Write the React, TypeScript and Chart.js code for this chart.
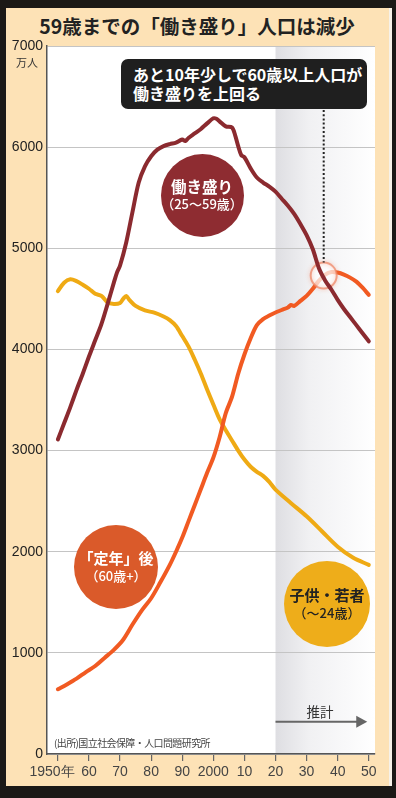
import React, { useEffect, useRef } from "react";
import { Chart, registerables } from "chart.js";

Chart.register(...registerables);

// ---- data (万人) ----
const workYears = [1950, 1952, 1954, 1956, 1958, 1960, 1962, 1964, 1966, 1968, 1969, 1970, 1972, 1974, 1976, 1978, 1980, 1982, 1984, 1986, 1988, 1990, 1991, 1992, 1994, 1996, 1998, 2000, 2001, 2002, 2004, 2006, 2007, 2008, 2009, 2010, 2012, 2014, 2016, 2018, 2020, 2022, 2024, 2026, 2028, 2030, 2032, 2034, 2036, 2038, 2040, 2042, 2044, 2046, 2048, 2050];
const workValues = [3110, 3270, 3430, 3600, 3760, 3930, 4090, 4250, 4450, 4660, 4760, 4830, 5060, 5360, 5650, 5810, 5910, 5975, 6010, 6030, 6045, 6075, 6060, 6090, 6135, 6180, 6235, 6285, 6280, 6255, 6205, 6195, 6120, 6010, 5920, 5900, 5790, 5700, 5650, 5610, 5560, 5490, 5420, 5340, 5240, 5130, 4990, 4800, 4680, 4590, 4490, 4400, 4320, 4240, 4160, 4080];

const seniorYears = [1950, 1953, 1956, 1959, 1962, 1965, 1968, 1971, 1974, 1977, 1980, 1983, 1986, 1988, 1990, 1992, 1994, 1996, 1998, 2000, 2002, 2004, 2006, 2008, 2010, 2012, 2014, 2016, 2018, 2020, 2022, 2024, 2025, 2026, 2028, 2030, 2032, 2034, 2036, 2038, 2040, 2042, 2044, 2046, 2048, 2050];
const seniorValues = [640, 690, 745, 810, 870, 950, 1030, 1130, 1280, 1420, 1540, 1700, 1870, 2000, 2140, 2300, 2460, 2620, 2780, 2930, 3130, 3370, 3530, 3760, 3950, 4110, 4240, 4300, 4335, 4365, 4390, 4415, 4440, 4430, 4480, 4530, 4600, 4680, 4740, 4765, 4760, 4740, 4710, 4670, 4610, 4540];

const youthYears = [1950, 1952, 1954, 1956, 1958, 1960, 1962, 1964, 1966, 1968, 1970, 1971, 1972, 1973, 1975, 1978, 1981, 1984, 1986, 1988, 1990, 1992, 1994, 1996, 1998, 2000, 2002, 2004, 2006, 2008, 2010, 2012, 2014, 2016, 2018, 2020, 2025, 2030, 2035, 2040, 2045, 2050];
const youthValues = [4577, 4660, 4693, 4675, 4640, 4600, 4550, 4530, 4465, 4450, 4460, 4500, 4528, 4490, 4430, 4386, 4363, 4325, 4290, 4231, 4132, 4030, 3900, 3760, 3604, 3455, 3310, 3200, 3100, 3000, 2911, 2840, 2790, 2750, 2690, 2614, 2480, 2350, 2200, 2050, 1940, 1870];

const xTicks = [1950, 1960, 1970, 1980, 1990, 2000, 2010, 2020, 2030, 2040, 2050];
const xTickLabels = ["1950年   ", "60", "70", "80", "90", "2000", "10", "20", "30", "40", "50"];
const yTicks = [0, 1000, 2000, 3000, 4000, 5000, 6000, 7000];

const projectionStart = 2020;
const crossYear = 2035.5;
const crossValue = 4730;
const arrowValue = 320;
const arrowEndYear = 2049.5;

const JP = "'Noto Sans CJK JP', 'Noto Sans', sans-serif";

function pickXFont() {
  try {
    const c = document.createElement("canvas").getContext("2d")!;
    c.font = "16px 'Liberation Sans Narrow', monospace";
    const a = c.measureText("2000").width;
    c.font = "16px monospace";
    const b = c.measureText("2000").width;
    if (Math.abs(a - b) > 0.5) return { family: "'Liberation Sans Narrow', 'Liberation Sans', sans-serif", size: 16 };
  } catch (e) {}
  return { family: "'Liberation Sans', Arial, sans-serif", size: 14 };
}

const overlayPlugin = {
  id: "overlay",
  beforeDraw(chart: any) {
    const { ctx, chartArea: a, scales } = chart;
    ctx.save();
    ctx.fillStyle = "#ffffff";
    ctx.fillRect(a.left, a.top, a.right - a.left, a.bottom - a.top);
    const x0 = scales.x.getPixelForValue(projectionStart);
    const g = ctx.createLinearGradient(x0, 0, a.right, 0);
    g.addColorStop(0, "#dedee2");
    g.addColorStop(0.35, "#f1f1f3");
    g.addColorStop(1, "#ffffff");
    ctx.fillStyle = g;
    ctx.fillRect(x0, a.top, a.right - x0, a.bottom - a.top);
    ctx.restore();
  },
  afterDatasetDraw(chart: any, args: any) {
    if (args.index !== 1) return;
    const { ctx, scales } = chart;
    const cx = scales.x.getPixelForValue(crossYear);
    const cy = scales.y.getPixelForValue(crossValue);
    const r = 13;
    ctx.save();
    ctx.beginPath();
    ctx.arc(cx, cy, r, 0, Math.PI * 2);
    ctx.fillStyle = "rgba(255,255,255,0.72)";
    ctx.fill();
    ctx.shadowColor = "rgba(240,120,80,0.6)";
    ctx.shadowBlur = 4;
    ctx.lineWidth = 2;
    ctx.strokeStyle = "rgba(238,130,95,0.7)";
    ctx.stroke();
    ctx.restore();
  },
  afterDatasetsDraw(chart: any) {
    const { ctx, scales } = chart;
    const cx = scales.x.getPixelForValue(crossYear);
    const cy = scales.y.getPixelForValue(crossValue);
    const r = 13;
    ctx.save();
    // dotted line
    ctx.strokeStyle = "#222";
    ctx.lineWidth = 2;
    ctx.setLineDash([2, 2.2]);
    ctx.beginPath();
    ctx.moveTo(cx, 110);
    ctx.lineTo(cx, cy - r);
    ctx.stroke();
    ctx.setLineDash([]);
    // projection arrow
    const ax0 = scales.x.getPixelForValue(projectionStart);
    const ax1 = scales.x.getPixelForValue(arrowEndYear);
    const ay = scales.y.getPixelForValue(arrowValue);
    ctx.strokeStyle = "#666";
    ctx.fillStyle = "#666";
    ctx.lineWidth = 2;
    ctx.beginPath();
    ctx.moveTo(ax0, ay);
    ctx.lineTo(ax1 - 10, ay);
    ctx.stroke();
    ctx.beginPath();
    ctx.moveTo(ax1, ay);
    ctx.lineTo(ax1 - 11, ay - 6);
    ctx.lineTo(ax1 - 11, ay + 6);
    ctx.closePath();
    ctx.fill();
    ctx.restore();
  },
};

function toPoints(xs: number[], ys: number[]) {
  return xs.map((x, i) => ({ x, y: ys[i] }));
}

export default function App() {
  const ref = useRef<HTMLCanvasElement>(null);
  useEffect(() => {
    const xFont = pickXFont();
    const chart = new Chart(ref.current!, {
      type: "line",
      data: {
        datasets: [
          { label: "働き盛り", data: toPoints(workYears, workValues), borderColor: "#8b2a2f", borderWidth: 4, pointRadius: 0, tension: 0.3, borderCapStyle: "round", borderJoinStyle: "round" },
          { label: "定年後", data: toPoints(seniorYears, seniorValues), borderColor: "#f15a22", borderWidth: 4, pointRadius: 0, tension: 0.3, borderCapStyle: "round", borderJoinStyle: "round" },
          { label: "子供・若者", data: toPoints(youthYears, youthValues), borderColor: "#efaa14", borderWidth: 4, pointRadius: 0, tension: 0.3, borderCapStyle: "round", borderJoinStyle: "round" },
        ],
      },
      options: {
        animation: false,
        responsive: true,
        maintainAspectRatio: false,
        layout: { padding: { left: 0, right: 21, top: 46, bottom: 0 } },
        plugins: { legend: { display: false }, tooltip: { enabled: false } },
        scales: {
          x: {
            type: "linear",
            min: 1946.5,
            max: 2052,
            afterBuildTicks: (s: any) => { s.ticks = xTicks.map((v) => ({ value: v })); },
            afterFit: (s: any) => { s.height = 44; },
            ticks: {
              autoSkip: false,
              maxRotation: 0,
              padding: 3,
              color: "#444",
              font: xFont,
              callback: (_v: any, i: number) => xTickLabels[i],
            },
            grid: { drawOnChartArea: false, drawTicks: true, tickLength: 7, color: "#666", lineWidth: 1.2 },
            border: { display: true, color: "#555", width: 1.5 },
          },
          y: {
            min: 0,
            max: 7000,
            afterBuildTicks: (s: any) => { s.ticks = yTicks.map((v) => ({ value: v })); },
            afterFit: (s: any) => { s.width = 47; },
            ticks: {
              padding: 4,
              color: "#222",
              font: { family: "'Liberation Sans', Arial, sans-serif", size: 14 },
              callback: (v: any) => String(v),
            },
            grid: { drawTicks: false, color: "#c4c4c4", lineWidth: 1 },
            border: { display: true, color: "#555", width: 1.5 },
          },
        },
      },
      plugins: [overlayPlugin],
    } as any);
    return () => chart.destroy();
  }, []);

  const circle = (cx: number, cy: number, r: number, bg: string, color: string, l1: string, l2: string, s1: number, s2: number) => (
    <div
      style={{
        position: "absolute", left: cx - r, top: cy - r, width: 2 * r, height: 2 * r, borderRadius: "50%",
        background: bg, color, display: "flex", flexDirection: "column", alignItems: "center", justifyContent: "center",
        fontFamily: JP, whiteSpace: "nowrap",
      }}
    >
      <div style={{ fontSize: s1, fontWeight: 700, lineHeight: "18px" }}>{l1}</div>
      <div style={{ fontSize: s2, fontWeight: 500, lineHeight: "18px" }}>{l2}</div>
    </div>
  );

  return (
    <div style={{ position: "fixed", left: 0, top: 0, width: 396, height: 798, background: "#1b1916", overflow: "hidden" }}>
      <div style={{ position: "absolute", left: 6, top: 8, width: 383, height: 778, background: "#fde2b6", borderRight: "3px solid #f6f1e8" }} />
      <div style={{ position: "absolute", left: 6, top: 14, width: 382, textAlign: "center", fontFamily: JP, fontWeight: 700, fontSize: 19.5, lineHeight: "24px", color: "#222" }}>
        59歳までの「働き盛り」人口は減少
      </div>
      <div style={{ position: "absolute", left: 0, top: 0, width: 396, height: 798 }}>
        <canvas ref={ref} />
      </div>
      <div style={{ position: "absolute", left: 14, top: 55, width: 26, textAlign: "center", fontFamily: JP, fontSize: 11, lineHeight: "14px", color: "#333" }}>万人</div>
      <div style={{ position: "absolute", left: 121, top: 59, width: 246, height: 50, boxSizing: "border-box", padding: "6px 0 0 12px", background: "#1f1f1f", borderRadius: 7, color: "#fff", fontFamily: JP, fontWeight: 700, fontSize: 16, lineHeight: "19px", whiteSpace: "nowrap" }}>
        <div>あと10年少しで60歳以上人口が</div>
        <div>働き盛りを上回る</div>
      </div>
      {circle(202, 195, 41.5, "#8e2c31", "#fff", "働き盛り", "（25〜59歳）", 15.5, 13)}
      {circle(116, 567, 42, "#da5a2a", "#fff", "「定年」後", "（60歳+）", 15, 13)}
      {circle(327, 604, 43, "#eead1a", "#222", "子供・若者", "（〜24歳）", 15, 13)}
      <div style={{ position: "absolute", left: 300, top: 703, width: 40, textAlign: "center", fontFamily: JP, fontSize: 13.5, lineHeight: "16px", color: "#333" }}>推計</div>
      <div style={{ position: "absolute", left: 54, top: 736, fontFamily: JP, fontSize: 10, letterSpacing: "-0.6px", lineHeight: "14px", color: "#444", whiteSpace: "nowrap" }}>(出所)国立社会保障・人口問題研究所</div>
    </div>
  );
}
